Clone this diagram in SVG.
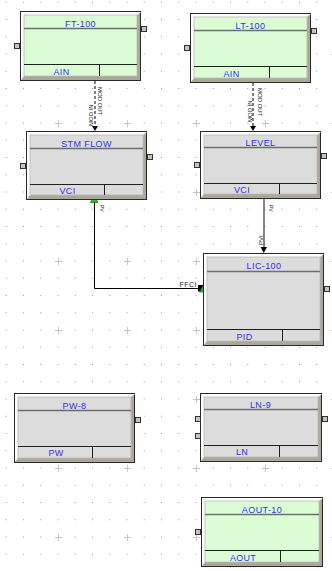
<svg xmlns="http://www.w3.org/2000/svg" width="332" height="571" viewBox="0 0 332 571">
<style>
.frame{fill:#aca899;stroke:#2a2a2a;stroke-width:1}
.hl{fill:#ffffff}
.green{fill:#dcfcd6;stroke:#b8b8b8;stroke-width:0.8}
.grey{fill:#dcdcdc;stroke:#b8b8b8;stroke-width:0.8}
.tline{stroke:#6e6e6e;stroke-width:1.6}
.bline{stroke:#202020;stroke-width:1}
.title{font-family:"Liberation Sans",Arial,sans-serif;font-size:9px;fill:#3030f0;text-anchor:middle;letter-spacing:0.4px}
.lbl{font-family:"Liberation Sans",Arial,sans-serif;font-size:9px;fill:#3030f0;text-anchor:middle;letter-spacing:0.3px}
.port{fill:#c4c4c4;stroke:#333333;stroke-width:1}
.ctext{font-family:"Liberation Sans",Arial,sans-serif;font-size:6px;fill:#222222}
.tri{fill:#20c820;stroke:#0a4a0a;stroke-width:0.6}
</style>
<defs>
<pattern id="grid" patternUnits="userSpaceOnUse" x="50" y="46" width="69" height="69">
<g fill="#9a9a9a">
<rect x="24.75" y="7.5" width="1" height="1"/><rect x="42" y="7.5" width="1" height="1"/><rect x="59.25" y="7.5" width="1" height="1"/>
<rect x="7.5" y="24.75" width="1" height="1"/><rect x="24.75" y="24.75" width="1" height="1"/><rect x="42" y="24.75" width="1" height="1"/><rect x="59.25" y="24.75" width="1" height="1"/>
<rect x="7.5" y="42" width="1" height="1"/><rect x="24.75" y="42" width="1" height="1"/><rect x="42" y="42" width="1" height="1"/><rect x="59.25" y="42" width="1" height="1"/>
<rect x="7.5" y="59.25" width="1" height="1"/><rect x="24.75" y="59.25" width="1" height="1"/><rect x="42" y="59.25" width="1" height="1"/><rect x="59.25" y="59.25" width="1" height="1"/>
</g>
<path d="M5,8.5H12M8.5,5V12" stroke="#c4c4c4" stroke-width="1"/>
</pattern>
</defs>
<rect width="332" height="571" fill="#ffffff"/>
<rect width="332" height="571" fill="url(#grid)"/>

<g id="connectors">
<line x1="95" y1="81" x2="95" y2="127" stroke="#000" stroke-width="1" stroke-dasharray="3,2"/>
<polygon points="92,126 98,126 95,131" fill="#000"/>
<text class="ctext" transform="translate(98,87) rotate(90)">MOD OUT</text>
<text class="ctext" transform="translate(92.5,126) rotate(-90)">MOD IN</text>

<line x1="253" y1="83" x2="253" y2="127" stroke="#000" stroke-width="1" stroke-dasharray="3,2"/>
<polygon points="250,126 256,126 253,131" fill="#000"/>
<text class="ctext" transform="translate(257.5,88) rotate(90)">MOD OUT</text>
<text class="ctext" transform="translate(251.5,122) rotate(-90)">MOD IN</text>

<path d="M94.5,201 V288.5 H199" fill="none" stroke="#000" stroke-width="1"/>
<polygon class="tri" points="90.5,202.5 98,202.5 94.3,195.5"/>
<text class="ctext" style="font-size:5px" transform="translate(100,205) rotate(90)">PV</text>
<text class="ctext" style="font-size:7px;letter-spacing:0.5px" x="197" y="286.5" text-anchor="end">FFCI</text>
<rect x="198" y="285" width="5" height="6.5" fill="#000"/>
<polygon class="tri" points="199.5,292 206.5,292 203,285.5"/>

<line x1="264" y1="199" x2="264" y2="248" stroke="#444444" stroke-width="1.3"/>
<polygon points="260.5,247 267,247 263.8,253" fill="#000"/>
<text class="ctext" style="font-size:5px" transform="translate(269,205) rotate(90)">PV</text>
<text class="ctext" transform="translate(262.5,245) rotate(-90)">PVI</text>
</g>

<g id="FT-100">
<rect class="frame" x="20.5" y="11.5" width="120" height="69"/>
<polygon class="hl" points="21,12 141,12 137,15 24,15 24,76 21,80"/>
<rect class="green" x="24" y="15" width="113" height="61"/>
<line class="tline" x1="24" y1="28.5" x2="137" y2="28.5"/>
<line class="bline" x1="24" y1="64.5" x2="137" y2="64.5"/>
<line class="bline" x1="99.5" y1="64.5" x2="99.5" y2="76"/>
<text class="title" x="80.5" y="26.5">FT-100</text>
<text class="lbl" x="61.5" y="74.5">AIN</text>
<rect class="port" x="141.5" y="26.5" width="5" height="5"/>
<rect class="port" x="14.5" y="43.5" width="5" height="5"/>
</g>

<g id="LT-100">
<rect class="frame" x="190.5" y="13.5" width="120" height="69"/>
<polygon class="hl" points="191,14 311,14 307,17 194,17 194,78 191,82"/>
<rect class="green" x="194" y="17" width="113" height="61"/>
<line class="tline" x1="194" y1="30.5" x2="307" y2="30.5"/>
<line class="bline" x1="194" y1="66.5" x2="307" y2="66.5"/>
<line class="bline" x1="269.5" y1="66.5" x2="269.5" y2="78"/>
<text class="title" x="250.5" y="28.5">LT-100</text>
<text class="lbl" x="231.5" y="76.5">AIN</text>
<rect class="port" x="311.5" y="28.5" width="5" height="5"/>
<rect class="port" x="184.5" y="45.5" width="5" height="5"/>
</g>

<g id="STM-FLOW">
<rect class="frame" x="26.5" y="131.5" width="120" height="68"/>
<polygon class="hl" points="27,132 147,132 143,135 30,135 30,195 27,199"/>
<rect class="grey" x="30" y="135" width="113" height="60"/>
<line class="tline" x1="30" y1="148.5" x2="143" y2="148.5"/>
<line class="bline" x1="30" y1="184.5" x2="143" y2="184.5"/>
<line class="bline" x1="104.5" y1="184.5" x2="104.5" y2="195"/>
<text class="title" x="86.5" y="146.5">STM FLOW</text>
<text class="lbl" x="67.5" y="193.5">VCI</text>
<rect class="port" x="147.5" y="154.5" width="5" height="5"/>
<rect class="port" x="20.5" y="163.5" width="5" height="5"/>
</g>

<g id="LEVEL">
<rect class="frame" x="200.5" y="131.5" width="120" height="67"/>
<polygon class="hl" points="201,132 321,132 317,135 204,135 204,194 201,198"/>
<rect class="grey" x="204" y="135" width="113" height="59"/>
<line class="tline" x1="204" y1="147.5" x2="317" y2="147.5"/>
<line class="bline" x1="204" y1="183.5" x2="317" y2="183.5"/>
<line class="bline" x1="279.5" y1="183.5" x2="279.5" y2="194"/>
<text class="title" x="260.5" y="145.5">LEVEL</text>
<text class="lbl" x="242" y="193">VCI</text>
<rect class="port" x="321.5" y="153.5" width="5" height="5"/>
<rect class="port" x="194.5" y="162.5" width="5" height="5"/>
</g>

<g id="LIC-100">
<rect class="frame" x="203.5" y="253.5" width="120" height="92"/>
<polygon class="hl" points="204,254 324,254 320,257 207,257 207,341 204,345"/>
<rect class="grey" x="207" y="257" width="113" height="84"/>
<line class="tline" x1="207" y1="271.5" x2="320" y2="271.5"/>
<line class="bline" x1="207" y1="329.5" x2="320" y2="329.5"/>
<line class="bline" x1="282.5" y1="329.5" x2="282.5" y2="341"/>
<text class="title" x="264" y="269">LIC-100</text>
<text class="lbl" x="244.5" y="340">PID</text>
<rect class="port" x="324.5" y="286.5" width="5" height="5"/>
</g>

<g id="PW-8">
<rect class="frame" x="14.5" y="393.5" width="120" height="69"/>
<polygon class="hl" points="15,394 135,394 131,397 18,397 18,458 15,462"/>
<rect class="grey" x="18" y="397" width="113" height="61"/>
<line class="tline" x1="18" y1="410.5" x2="131" y2="410.5"/>
<line class="bline" x1="18" y1="446.5" x2="131" y2="446.5"/>
<line class="bline" x1="92.5" y1="446.5" x2="92.5" y2="458"/>
<text class="title" x="74.5" y="408.5">PW-8</text>
<text class="lbl" x="56" y="456">PW</text>
<rect class="port" x="135.5" y="417.5" width="5" height="5"/>
</g>

<g id="LN-9">
<rect class="frame" x="200.5" y="393.5" width="121" height="68"/>
<polygon class="hl" points="201,394 322,394 318,397 204,397 204,457 201,461"/>
<rect class="grey" x="204" y="397" width="114" height="60"/>
<line class="tline" x1="204" y1="409.5" x2="318" y2="409.5"/>
<line class="bline" x1="204" y1="445.5" x2="318" y2="445.5"/>
<line class="bline" x1="279.5" y1="445.5" x2="279.5" y2="457"/>
<text class="title" x="260.5" y="407.5">LN-9</text>
<text class="lbl" x="242" y="455">LN</text>
<rect class="port" x="322.5" y="416.5" width="5" height="5"/>
<rect class="port" x="195.5" y="416.5" width="5" height="5"/>
<rect class="port" x="195.5" y="433.5" width="5" height="5"/>
</g>

<g id="AOUT-10">
<rect class="frame" x="201.5" y="497.5" width="121" height="69"/>
<polygon class="hl" points="202,498 323,498 319,501 205,501 205,562 202,566"/>
<rect class="green" x="205" y="501" width="114" height="61"/>
<line class="tline" x1="205" y1="514.5" x2="319" y2="514.5"/>
<line class="bline" x1="205" y1="550.5" x2="319" y2="550.5"/>
<line class="bline" x1="280.5" y1="550.5" x2="280.5" y2="562"/>
<text class="title" x="262" y="512.5">AOUT-10</text>
<text class="lbl" x="243" y="560.5">AOUT</text>
<rect class="port" x="195.5" y="529.5" width="5" height="5"/>
</g>
</svg>
